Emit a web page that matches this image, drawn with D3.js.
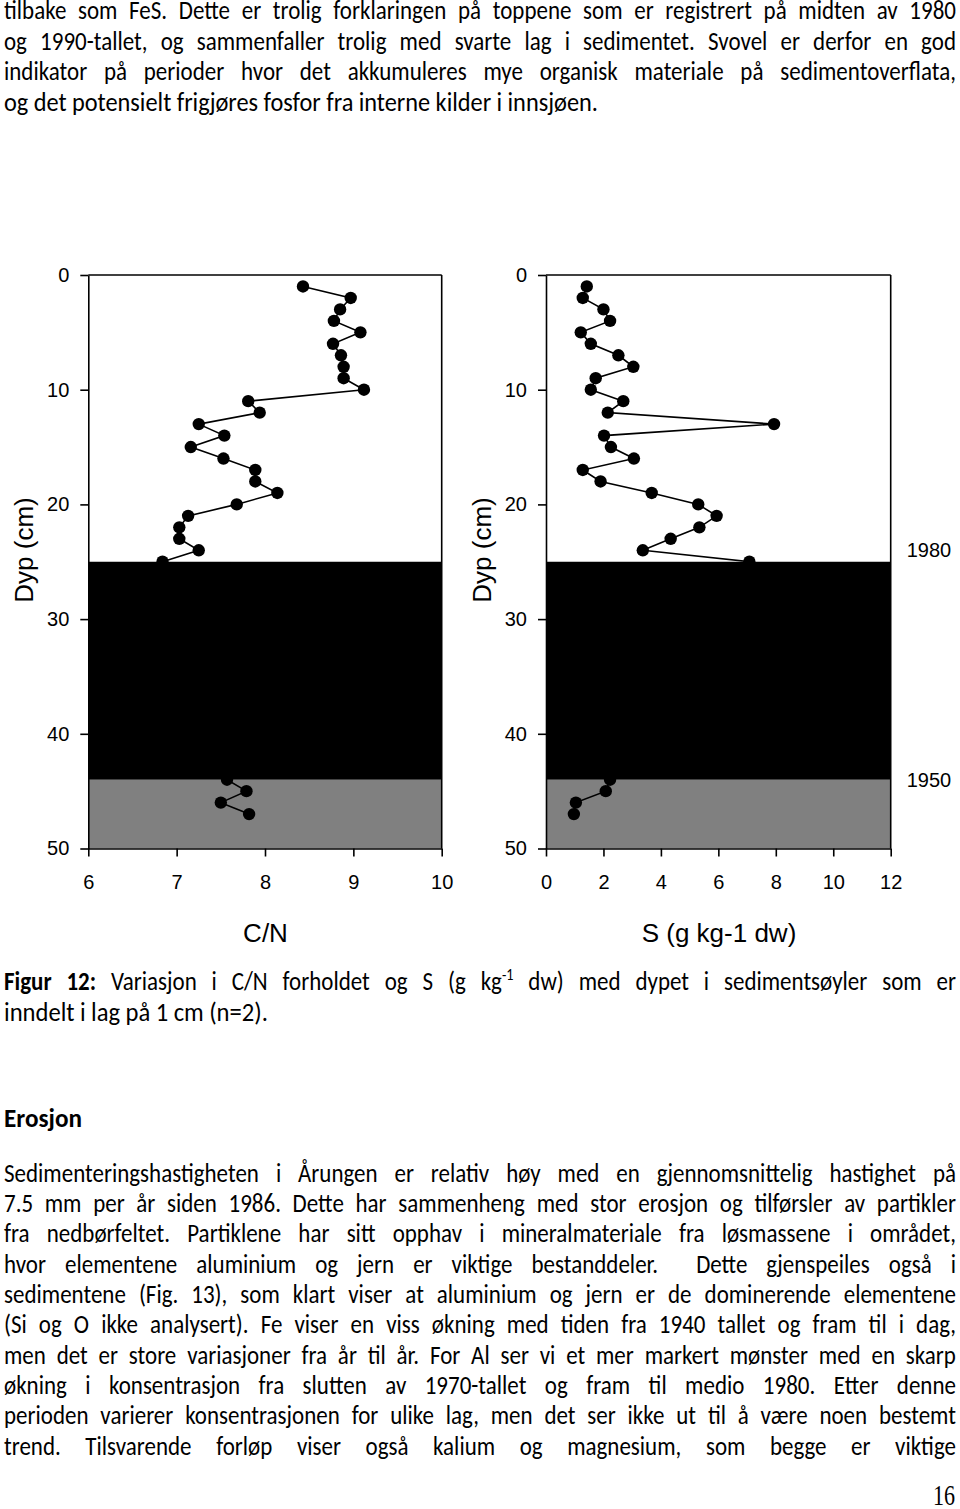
<!DOCTYPE html>
<html>
<head>
<meta charset="utf-8">
<script src="https://cdn.jsdelivr.net/npm/d3@7"></script>
<style>
  html, body { margin: 0; padding: 0; background: #fff; }
  svg { display: block; }
</style>
</head>
<body>
<svg id="page" width="960" height="1509"></svg>
<script>
// ---------------- DATA ----------------
const depths   = [1,2,3,4,5,6,7,8,9,10,11,12,13,14,15,16,17,18,19,20,21,22,23,24,25,44,45,46,47];
const cnValues = [8.43,8.97,8.85,8.78,9.08,8.77,8.86,8.89,8.89,9.12,7.81,7.94,7.25,7.54,7.16,7.53,7.89,7.89,8.14,7.68,7.13,7.03,7.03,7.25,6.84,7.57,7.79,7.50,7.82];
const sValues  = [1.42,1.28,2.00,2.23,1.21,1.56,2.52,3.04,1.73,1.56,2.69,2.15,7.94,2.02,2.26,3.06,1.28,1.90,3.68,5.30,5.94,5.34,4.34,3.37,7.08,2.23,2.08,1.04,0.97];

const depthTicks = [0,10,20,30,40,50];
const cnTicks    = [6,7,8,9,10];
const sTicks     = [0,2,4,6,8,10,12];

const blackBand  = [25, 44];   // depth range (cm)
const grayBand   = [44, 50];
const yearLabels = ["1980", "1950"];
const yearDepths = [24.0, 44.0];

const yTitle   = "Dyp (cm)";
const cnTitle  = "C/N";
const sTitle   = "S (g kg-1 dw)";

const topLines = [
  "tilbake som FeS. Dette er trolig forklaringen på toppene som er registrert på midten av 1980",
  "og 1990-tallet, og sammenfaller trolig med svarte lag i sedimentet. Svovel er derfor en god",
  "indikator på perioder hvor det akkumuleres mye organisk materiale på sedimentoverflata,",
  "og det potensielt frigjøres fosfor fra interne kilder i innsjøen."
];
const captionLines = [
  "Figur 12: Variasjon i C/N forholdet og S (g kg^-1 dw) med dypet i sedimentsøyler som er",
  "inndelt i lag på 1 cm (n=2)."
];
const headingText = "Erosjon";
const bodyLines = [
  "Sedimenteringshastigheten i Årungen er relativ høy med en gjennomsnittelig hastighet på",
  "7.5 mm per år siden 1986. Dette har sammenheng med stor erosjon og tilførsler av partikler",
  "fra nedbørfeltet. Partiklene har sitt opphav i mineralmateriale fra løsmassene i området,",
  "hvor elementene aluminium og jern er viktige bestanddeler.  Dette gjenspeiles også i",
  "sedimentene (Fig. 13), som klart viser at aluminium og jern er de dominerende elementene",
  "(Si og O ikke analysert). Fe viser en viss økning med tiden fra 1940 tallet og fram til i dag,",
  "men det er store variasjoner fra år til år. For Al ser vi et mer markert mønster med en skarp",
  "økning i konsentrasjon fra slutten av 1970-tallet og fram til medio 1980. Etter denne",
  "perioden varierer konsentrasjonen for ulike lag, men det ser ikke ut til å være noen bestemt",
  "trend. Tilsvarende forløp viser også kalium og magnesium, som begge er viktige"
];
const pageNumber = "16";

// ---------------- PAGE ----------------
const svg = d3.select("#page");
svg.append("rect").attr("width", 960).attr("height", 1509).attr("fill", "#fff");

const TEXT_FONT = "Carlito, Calibri, Lato, 'Open Sans', sans-serif";
const CHART_FONT = "'Liberation Sans', Arial, Helvetica, sans-serif";
const SY = 1.12; // vertical stretch of the scanned body text

// Layout a line of words. mode: "justify" -> spans exactly [x0, x1]; "fit" -> natural spacing scaled to end at x1
function textLine(str, x0, x1, y, opts = {}) {
  const fs = opts.size || 23;
  const g = svg.append("g").attr("font-family", TEXT_FONT).attr("font-size", fs).attr("fill", "#000");
  const words = str.split(" ");
  const nodes = words.map((w, i) => {
    const t = g.append("text").attr("x", 0).attr("y", 0);
    if (opts.boldWords && i < opts.boldWords) t.attr("font-weight", "bold");
    const parts = w.split("^");
    t.append("tspan").text(parts[0]);
    if (parts.length > 1) {
      t.append("tspan").attr("font-size", fs * 0.62).attr("dy", -fs * 0.38).text(parts[1]);
    }
    return t;
  });
  const widths = nodes.map(n => n.node().getComputedTextLength());
  const W = d3.sum(widths);
  const n = words.length;
  const T = x1 - x0;
  const natGap = fs * 0.22;
  let s, gap;
  if (opts.mode === "justify" && n > 1) {
    s = Math.min(1, (T - natGap * 0.8 * (n - 1)) / W);
    gap = (T / s - W) / (n - 1);
  } else {
    s = T / (W + natGap * (n - 1));
    gap = natGap;
  }
  let cx = 0;
  nodes.forEach((nd, i) => { nd.attr("x", cx); cx += widths[i] + gap; });
  g.attr("transform", `translate(${x0},${y}) scale(${s},${SY})`);
}

const L = 4, R = 956;
const topBase = [19, 49.6, 80.2, 110.8];
topLines.forEach((t, i) => textLine(t, L, i < 3 ? R : 598, topBase[i], {mode: i < 3 ? "justify" : "fit"}));

textLine(captionLines[0], L, R, 990, {mode: "justify", boldWords: 2});
textLine(captionLines[1], L, 268, 1021, {mode: "fit"});
textLine(headingText, L, 82, 1126.5, {mode: "fit", boldWords: 1});

bodyLines.forEach((t, i) => textLine(t, L, R, 1181.5 + i * 30.35, {mode: "justify"}));

svg.append("text").attr("x", 955).attr("y", 1505).attr("text-anchor", "end")
  .attr("font-family", "'Liberation Serif', 'Times New Roman', serif").attr("font-size", 29)
  .attr("textLength", 22).attr("lengthAdjust", "spacingAndGlyphs").text(pageNumber);

// ---------------- CHARTS ----------------
const yTop = 275, yBot = 848.5;
const y = d3.scaleLinear().domain([0, 50]).range([yTop, yBot]);

function panel(x0, x1, domain, ticks, values, xTitle, titleX, yearLabelsOn) {
  const x = d3.scaleLinear().domain(domain).range([x0, x1]);
  const g = svg.append("g");

  // gray band behind points
  g.append("rect").attr("x", x0).attr("width", x1 - x0)
    .attr("y", y(grayBand[0])).attr("height", y(grayBand[1]) - y(grayBand[0]))
    .attr("fill", "#808080");

  const pts = depths.map((d, i) => ({d, v: values[i]}));
  const line = d3.line().x(p => x(p.v)).y(p => y(p.d));
  g.append("path").datum(pts).attr("d", line)
    .attr("fill", "none").attr("stroke", "#000").attr("stroke-width", 1.6);
  g.selectAll("circle.pt").data(pts).join("circle").attr("class", "pt")
    .attr("cx", p => x(p.v)).attr("cy", p => y(p.d)).attr("r", 6.2).attr("fill", "#000");

  // black band over points
  g.append("rect").attr("x", x0).attr("width", x1 - x0)
    .attr("y", y(blackBand[0])).attr("height", y(blackBand[1]) - y(blackBand[0]))
    .attr("fill", "#000");

  // frame top / right
  g.append("line").attr("x1", x0).attr("x2", x1).attr("y1", yTop).attr("y2", yTop)
    .attr("stroke", "#000").attr("stroke-width", 1.6);
  g.append("line").attr("x1", x1).attr("x2", x1).attr("y1", yTop).attr("y2", yBot)
    .attr("stroke", "#000").attr("stroke-width", 1.6);

  // axes
  const ay = g.append("g").attr("transform", `translate(${x0},0)`)
    .call(d3.axisLeft(y).tickValues(depthTicks).tickFormat(d3.format("d"))
      .tickSize(8).tickPadding(11).tickSizeOuter(0));
  const ax = g.append("g").attr("transform", `translate(0,${yBot})`)
    .call(d3.axisBottom(x).tickValues(ticks).tickFormat(d3.format("d"))
      .tickSize(8).tickPadding(18).tickSizeOuter(0));
  [ay, ax].forEach(a => {
    a.select(".domain").attr("stroke", "#000").attr("stroke-width", 1.6);
    a.selectAll(".tick line").attr("stroke", "#000").attr("stroke-width", 1.6);
    a.selectAll(".tick text").attr("font-family", CHART_FONT).attr("font-size", 20).attr("fill", "#000");
  });

  // titles
  g.append("text").attr("x", titleX).attr("y", 942).attr("text-anchor", "middle")
    .attr("font-family", CHART_FONT).attr("font-size", 26).text(xTitle);
  g.append("text").attr("transform", `translate(${x0 - 55},550) rotate(-90)`)
    .attr("text-anchor", "middle").attr("font-family", CHART_FONT).attr("font-size", 26).text(yTitle);

  if (yearLabelsOn) {
    const yl = [557, 787];
    yearLabels.forEach((lab, i) => {
      g.append("text").attr("x", x1 + 16).attr("y", y(yearDepths[i]) + (yl[i] - y(yearDepths[i])))
        .attr("font-family", CHART_FONT).attr("font-size", 20).text(lab);
    });
  }
}

panel(88.3, 441.7, [6, 10], cnTicks, cnValues, cnTitle, 265.5, false);
panel(546, 890.7, [0, 12], sTicks, sValues, sTitle, 719, true);
</script>
</body>
</html>
